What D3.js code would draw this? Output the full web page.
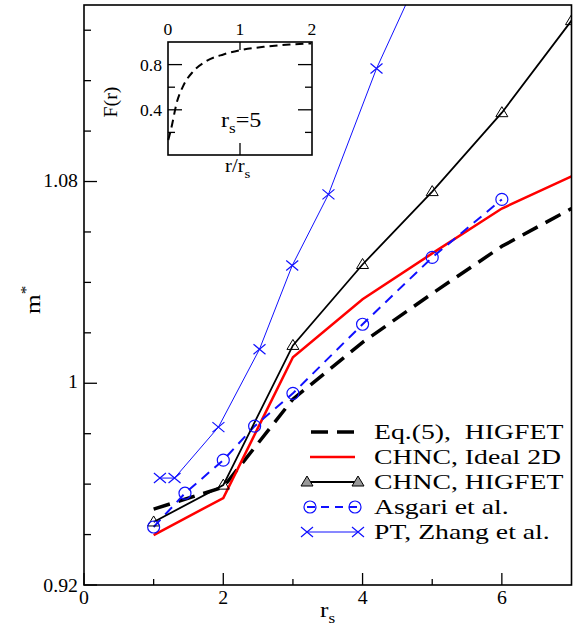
<!DOCTYPE html>
<html>
<head>
<meta charset="utf-8">
<script src="https://cdn.jsdelivr.net/npm/d3@7"></script>
<style>
  body { margin: 0; background: #fff; }
</style>
</head>
<body>
<div class="graph"></div>
<script>
// ---- data ----
var xMajor = [0, 2, 4, 6];
var xMinor = [1, 3, 5];
var yMajor = [0.92, 1.00, 1.08];
var yMajorLabels = ['0.92', '1', '1.08'];
var yMinor = [0.94, 0.96, 0.98, 1.02, 1.04, 1.06, 1.10, 1.12, 1.14];

var eq5X = [1, 2, 3, 4, 5, 6, 7];
var eq5Y = [0.9501, 0.9588, 0.9937, 1.0162, 1.0356, 1.0543, 1.0693];

var idealX = [1, 2, 3, 4, 5, 6, 7];
var idealY = [0.9398, 0.9545, 1.0103, 1.0333, 1.0515, 1.0693, 1.0820];

var higfetX = [1, 2, 3, 4, 5, 6, 7];
var higfetY = [0.9450, 0.9596, 1.0150, 1.0471, 1.0760, 1.1073, 1.1438];

var asgariX = [1, 1.45, 2, 2.45, 3, 4, 5, 6];
var asgariY = [0.9430, 0.9564, 0.9695, 0.9830, 0.9960, 1.0234, 1.0499, 1.0729];

var ptX = [1.09, 1.30, 1.93, 2.52, 2.99, 3.51, 4.20, 5.0];
var ptY = [0.9624, 0.9624, 0.9826, 1.0135, 1.0467, 1.0749, 1.1248, 1.173];
var ptMarks = 7; // last point lies above the frame

// inset F(r) for rs = 5
var fX = [0.004, 0.05, 0.12, 0.21, 0.35, 0.53, 0.77, 1.0, 1.37, 1.69, 1.99];
var fY = [0.133, 0.25, 0.46, 0.61, 0.74, 0.83, 0.89, 0.927, 0.96, 0.978, 0.987];
var insetXTicks = [0, 1, 2];
var insetYMajor = [0.4, 0.8];
var insetYMinor = [0.2, 0.6];

var legendLabels = ['Eq.(5),  HIGFET', 'CHNC, Ideal 2D', 'CHNC, HIGFET', 'Asgari et al.', 'PT, Zhang et al.'];

// ---- drawing ----
var W = 573, H = 625;
var FONT = 'Liberation Serif';
var svg = d3.select('.graph').append('svg').attr('width', W).attr('height', H);

var x = d3.scaleLinear().domain([0, 7]).range([84, 571.5]);
var y = d3.scaleLinear().domain([0.92, 1.15]).range([585, 5]);

function zip(xs, ys) { return xs.map(function(v, i) { return [v, ys[i]]; }); }

function txt(g, px, py, s, size, sx, anchor) {
  return g.append('text')
    .attr('transform', 'translate(' + px + ',' + py + ') scale(' + sx + ',1)')
    .attr('font-size', size)
    .attr('font-family', FONT)
    .attr('text-anchor', anchor || 'start')
    .style('white-space', 'pre')
    .text(s);
}

svg.append('clipPath').attr('id', 'plotclip').append('rect')
  .attr('x', x(0)).attr('y', y(1.15)).attr('width', x(7) - x(0)).attr('height', y(0.92) - y(1.15));

// ticks (inward)
var axes = svg.append('g').attr('stroke', '#000').attr('stroke-width', 1.3);
xMajor.forEach(function(v) {
  axes.append('line').attr('x1', x(v)).attr('x2', x(v)).attr('y1', y(0.92)).attr('y2', y(0.92) - 12);
});
xMinor.forEach(function(v) {
  axes.append('line').attr('x1', x(v)).attr('x2', x(v)).attr('y1', y(0.92)).attr('y2', y(0.92) - 6);
});
yMajor.forEach(function(v) {
  axes.append('line').attr('x1', x(0)).attr('x2', x(0) + 13).attr('y1', y(v)).attr('y2', y(v));
});
yMinor.forEach(function(v) {
  axes.append('line').attr('x1', x(0)).attr('x2', x(0) + 7).attr('y1', y(v)).attr('y2', y(v));
});

var labels = svg.append('g');
xMajor.forEach(function(v) {
  txt(labels, x(v), 604, String(v), 18, 1.1, 'middle');
});
yMajor.forEach(function(v, i) {
  txt(labels, 78, y(v) + (i === 0 ? 7 : 5), yMajorLabels[i], 18, 1.1, 'end');
});

// axis titles
var xt = txt(labels, 320, 617, '', 22, 1.15, 'start');
xt.append('tspan').text('r');
xt.append('tspan').attr('font-size', 15).attr('dy', 6).text('s');

var yt = labels.append('text').attr('transform', 'translate(40,314) rotate(-90) scale(1.15,1)')
  .attr('font-size', 22).attr('font-family', FONT);
yt.append('tspan').text('m');
yt.append('tspan').attr('font-size', 15).attr('dy', -9).text('*');

// series
var line = d3.line().x(function(d) { return x(d[0]); }).y(function(d) { return y(d[1]); });
var plot = svg.append('g').attr('clip-path', 'url(#plotclip)').attr('fill', 'none');

plot.append('path').datum(zip(ptX, ptY)).attr('d', line)
  .attr('stroke', '#1010ff').attr('stroke-width', 1);
plot.append('path').datum(zip(eq5X, eq5Y)).attr('d', line)
  .attr('stroke', '#000').attr('stroke-width', 3.5).attr('stroke-dasharray', '17,9');
plot.append('path').datum(zip(idealX, idealY)).attr('d', line)
  .attr('stroke', '#ff0000').attr('stroke-width', 2.5);
plot.append('path').datum(zip(asgariX, asgariY)).attr('d', line)
  .attr('stroke', '#1010ff').attr('stroke-width', 2).attr('stroke-dasharray', '10,7');
plot.append('path').datum(zip(higfetX, higfetY)).attr('d', line)
  .attr('stroke', '#000').attr('stroke-width', 1.8);

function triangle(g, px, py, fill) {
  g.append('path').attr('d', 'M' + px + ',' + (py - 6) + 'L' + (px + 6) + ',' + (py + 4) + 'L' + (px - 6) + ',' + (py + 4) + 'Z')
    .attr('stroke', '#000').attr('stroke-width', 1).attr('fill', fill);
}
function circle(g, px, py) {
  g.append('circle').attr('cx', px).attr('cy', py).attr('r', 6)
    .attr('stroke', '#1010ff').attr('stroke-width', 1.2).attr('fill', 'none');
}
function cross(g, px, py) {
  g.append('path').attr('d', 'M' + (px - 6) + ',' + (py - 5) + 'L' + (px + 6) + ',' + (py + 5) + 'M' + (px - 6) + ',' + (py + 5) + 'L' + (px + 6) + ',' + (py - 5))
    .attr('stroke', '#1010ff').attr('stroke-width', 1.2);
}

higfetX.forEach(function(v, i) { triangle(plot, x(v), y(higfetY[i]), 'none'); });
asgariX.forEach(function(v, i) { circle(plot, x(v), y(asgariY[i])); });
ptX.slice(0, ptMarks).forEach(function(v, i) { cross(plot, x(v), y(ptY[i])); });

// frame
svg.append('rect').attr('x', x(0)).attr('y', y(1.15)).attr('width', x(7) - x(0)).attr('height', y(0.92) - y(1.15))
  .attr('fill', 'none').attr('stroke', '#000').attr('stroke-width', 1.6);

// legend
var leg = svg.append('g');
var legY = [432, 457, 482, 507, 532];
var lx0 = 307, lx1 = 358;
leg.append('line').attr('x1', lx0).attr('x2', lx1).attr('y1', legY[0]).attr('y2', legY[0])
  .attr('stroke', '#000').attr('stroke-width', 3.5).attr('stroke-dasharray', '17,9').attr('stroke-dashoffset', -4);
leg.append('line').attr('x1', lx0 + 3).attr('x2', lx1 - 3).attr('y1', legY[1]).attr('y2', legY[1])
  .attr('stroke', '#ff0000').attr('stroke-width', 2.5);
leg.append('line').attr('x1', lx0).attr('x2', lx1).attr('y1', legY[2]).attr('y2', legY[2])
  .attr('stroke', '#000').attr('stroke-width', 1.8);
triangle(leg, lx0, legY[2], '#999');
triangle(leg, lx1, legY[2], '#999');
leg.append('line').attr('x1', lx0).attr('x2', lx1).attr('y1', legY[3]).attr('y2', legY[3])
  .attr('stroke', '#1010ff').attr('stroke-width', 2).attr('stroke-dasharray', '8,6');
circle(leg, lx0 + 3, legY[3]);
circle(leg, lx1 - 3, legY[3]);
leg.append('line').attr('x1', lx0).attr('x2', lx1).attr('y1', legY[4]).attr('y2', legY[4])
  .attr('stroke', '#1010ff').attr('stroke-width', 1);
cross(leg, lx0, legY[4]);
cross(leg, lx1, legY[4]);
legendLabels.forEach(function(s, i) {
  txt(leg, 374, legY[i] + 7, s, 22, 1.26, 'start');
});

// inset
var ix = d3.scaleLinear().domain([0, 2]).range([168, 312]);
var iy = d3.scaleLinear().domain([0, 1]).range([155, 42]);
var inset = svg.append('g');
inset.append('path').datum(zip(fX, fY))
  .attr('d', d3.line().curve(d3.curveMonotoneX).x(function(d) { return ix(d[0]); }).y(function(d) { return iy(d[1]); }))
  .attr('fill', 'none').attr('stroke', '#000').attr('stroke-width', 2).attr('stroke-dasharray', '8,5');

var it = inset.append('g').attr('stroke', '#000').attr('stroke-width', 1.3);
insetYMajor.forEach(function(v) {
  it.append('line').attr('x1', ix(0)).attr('x2', ix(0) + 14).attr('y1', iy(v)).attr('y2', iy(v));
  it.append('line').attr('x1', ix(2)).attr('x2', ix(2) - 14).attr('y1', iy(v)).attr('y2', iy(v));
});
insetYMinor.forEach(function(v) {
  it.append('line').attr('x1', ix(0)).attr('x2', ix(0) + 7).attr('y1', iy(v)).attr('y2', iy(v));
  it.append('line').attr('x1', ix(2)).attr('x2', ix(2) - 7).attr('y1', iy(v)).attr('y2', iy(v));
});
it.append('line').attr('x1', ix(1)).attr('x2', ix(1)).attr('y1', iy(1)).attr('y2', iy(1) + 8);
it.append('line').attr('x1', ix(1)).attr('x2', ix(1)).attr('y1', iy(0)).attr('y2', iy(0) - 12);
inset.append('rect').attr('x', ix(0)).attr('y', iy(1)).attr('width', ix(2) - ix(0)).attr('height', iy(0) - iy(1))
  .attr('fill', 'none').attr('stroke', '#000').attr('stroke-width', 1.6);

insetXTicks.forEach(function(v) {
  txt(inset, ix(v), 35, String(v), 16, 1.1, 'middle');
});
insetYMajor.forEach(function(v) {
  txt(inset, 162, iy(v) + 6, String(v), 16, 1.1, 'end');
});
inset.append('text').attr('transform', 'translate(117,102) rotate(-90) scale(1.1,1)')
  .attr('font-size', 18).attr('text-anchor', 'middle').attr('font-family', FONT).text('F(r)');
var rl = txt(inset, 225, 172, '', 18, 1.15, 'start');
rl.append('tspan').text('r/r');
rl.append('tspan').attr('font-size', 13).attr('dy', 6).text('s');
var rs = txt(inset, 221, 127, '', 21, 1.15, 'start');
rs.append('tspan').text('r');
rs.append('tspan').attr('font-size', 15).attr('dy', 6).text('s');
rs.append('tspan').attr('dy', -6).text('=5');
</script>
</body>
</html>
